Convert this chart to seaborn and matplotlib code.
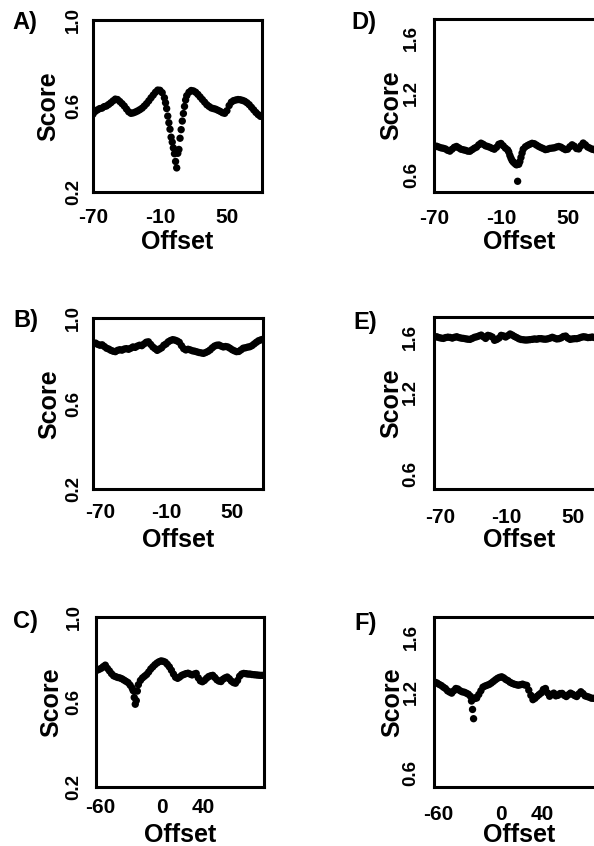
import numpy as np
import pandas as pd
import matplotlib
matplotlib.use("Agg")
import matplotlib.pyplot as plt
import seaborn as sns

sns.set_style("white")
plt.rcParams["font.family"] = ["Liberation Sans", "DejaVu Sans"]
plt.rcParams["font.weight"] = "bold"
plt.rcParams["text.color"] = "black"
plt.rcParams["axes.labelcolor"] = "black"
plt.rcParams["xtick.color"] = "black"
plt.rcParams["ytick.color"] = "black"

# ---------------- data ----------------
# Panel A
a_offset = np.concatenate([np.arange(-70, -5, 2), np.arange(-5, 14), np.arange(14, 81, 2)])
a_score = [0.562, 0.575, 0.582, 0.588, 0.590, 0.597, 0.600, 0.607, 0.615, 0.624,
           0.632, 0.630, 0.621, 0.611, 0.600, 0.586, 0.573, 0.566, 0.568, 0.572,
           0.577, 0.583, 0.590, 0.600, 0.611, 0.624, 0.638, 0.651, 0.664, 0.674,
           0.673, 0.662, 0.638,
           0.615, 0.588, 0.553, 0.522, 0.492, 0.455, 0.432, 0.405, 0.378, 0.342,
           0.312, 0.380, 0.398, 0.450, 0.490, 0.530, 0.565, 0.598, 0.628,
           0.648, 0.664, 0.672, 0.670, 0.664, 0.654, 0.642, 0.630, 0.618, 0.606,
           0.598, 0.591, 0.588, 0.585, 0.580, 0.575, 0.569, 0.566, 0.578, 0.602,
           0.618, 0.625, 0.628, 0.630, 0.629, 0.626, 0.622, 0.615, 0.606, 0.594,
           0.582, 0.570, 0.560, 0.552]

# Panel B
b_offset = np.arange(-76, 79, 2)
b_score = [0.882, 0.884, 0.878, 0.874, 0.876, 0.868, 0.860, 0.856, 0.850, 0.846,
           0.844, 0.850, 0.853, 0.851, 0.856, 0.858, 0.855, 0.860, 0.866, 0.864,
           0.870, 0.874, 0.872, 0.880, 0.888, 0.890, 0.878, 0.866, 0.858, 0.850,
           0.856, 0.862, 0.874, 0.880, 0.890, 0.896, 0.900, 0.898, 0.894, 0.888,
           0.872, 0.858, 0.852, 0.855, 0.852, 0.848, 0.846, 0.843, 0.840, 0.838,
           0.836, 0.840, 0.845, 0.852, 0.862, 0.870, 0.874, 0.875, 0.870, 0.866,
           0.868, 0.866, 0.860, 0.853, 0.848, 0.844, 0.845, 0.852, 0.860, 0.862,
           0.865, 0.867, 0.872, 0.880, 0.888, 0.895, 0.899, 0.902]

# Panel C
c_offset = np.concatenate([np.arange(-63, -28, 2), np.arange(-28, -23), np.arange(-23, 98, 2)])
c_score = [0.748, 0.752, 0.757, 0.765, 0.772, 0.757, 0.745, 0.732, 0.722, 0.718,
           0.714, 0.712, 0.708, 0.702, 0.696, 0.690, 0.678, 0.664,
           0.652, 0.620, 0.588, 0.605, 0.650,
           0.680, 0.700, 0.712, 0.720, 0.728, 0.740, 0.754, 0.764, 0.774, 0.782,
           0.788, 0.792, 0.790, 0.786, 0.776, 0.764, 0.748, 0.730, 0.715, 0.710,
           0.716, 0.724, 0.728, 0.732, 0.734, 0.730, 0.726, 0.730, 0.733, 0.712,
           0.698, 0.694, 0.700, 0.710, 0.718, 0.722, 0.724, 0.714, 0.703, 0.697,
           0.695, 0.706, 0.712, 0.716, 0.708, 0.697, 0.690, 0.687, 0.700, 0.720,
           0.730, 0.733, 0.732, 0.730, 0.730, 0.728, 0.727, 0.726, 0.725, 0.724, 0.724]

# Panel D
d_offset = np.concatenate([np.arange(-70, -3, 2), np.arange(-3, 11), np.arange(12, 81, 2)])
d_score = [0.805, 0.812, 0.806, 0.800, 0.797, 0.792, 0.782, 0.776, 0.790, 0.804,
           0.810, 0.800, 0.790, 0.786, 0.782, 0.776, 0.775, 0.786, 0.797, 0.805,
           0.822, 0.834, 0.826, 0.815, 0.810, 0.804, 0.796, 0.790, 0.804, 0.826,
           0.832, 0.815, 0.798, 0.785,
           0.770, 0.745, 0.725, 0.708, 0.697, 0.690, 0.682, 0.676, 0.556, 0.680,
           0.700, 0.730, 0.762, 0.790,
           0.808, 0.818, 0.826, 0.833, 0.830, 0.820, 0.810, 0.802, 0.795, 0.787,
           0.790, 0.796, 0.798, 0.800, 0.806, 0.810, 0.805, 0.795, 0.787, 0.790,
           0.808, 0.822, 0.812, 0.795, 0.792, 0.815, 0.835, 0.822, 0.806, 0.798,
           0.790, 0.786, 0.800, 0.810, 0.805]

# Panel E
e_offset = np.arange(-75, 78, 2)
e_score = [1.596, 1.600, 1.594, 1.590, 1.588, 1.594, 1.597, 1.595, 1.590, 1.596,
           1.600, 1.594, 1.590, 1.588, 1.585, 1.582, 1.581, 1.588, 1.596, 1.600,
           1.606, 1.612, 1.600, 1.588, 1.610, 1.606, 1.598, 1.574, 1.580, 1.590,
           1.610, 1.606, 1.598, 1.608, 1.620, 1.612, 1.602, 1.594, 1.585, 1.580,
           1.578, 1.576, 1.577, 1.579, 1.581, 1.584, 1.582, 1.586, 1.586, 1.583,
           1.582, 1.585, 1.590, 1.596, 1.590, 1.584, 1.586, 1.592, 1.602, 1.605,
           1.590, 1.581, 1.584, 1.586, 1.586, 1.590, 1.596, 1.600, 1.598, 1.594,
           1.595, 1.598, 1.594, 1.590, 1.594, 1.596, 1.594]

# Panel F
f_offset = np.concatenate([np.arange(-63, -28, 2), np.arange(-28, -23), np.arange(-23, 98, 2)])
f_score = [1.268, 1.262, 1.252, 1.244, 1.232, 1.222, 1.205, 1.196, 1.188, 1.205,
           1.222, 1.218, 1.206, 1.198, 1.195, 1.188, 1.180, 1.165,
           1.130, 1.068, 1.000, 1.148, 1.155,
           1.152, 1.178, 1.205, 1.232, 1.240, 1.246, 1.252, 1.262, 1.274, 1.286,
           1.297, 1.304, 1.308, 1.300, 1.288, 1.280, 1.268, 1.260, 1.254, 1.250,
           1.246, 1.250, 1.254, 1.248, 1.245, 1.210, 1.172, 1.140, 1.150, 1.165,
           1.178, 1.190, 1.215, 1.222, 1.190, 1.165, 1.178, 1.188, 1.168, 1.172,
           1.185, 1.186, 1.172, 1.163, 1.176, 1.188, 1.180, 1.170, 1.163, 1.182,
           1.198, 1.185, 1.168, 1.163, 1.158, 1.151, 1.150, 1.148, 1.152, 1.150, 1.148]

x_ticks_70 = [-70, -50, -30, -10, 10, 30, 50, 70]
x_labels_70 = ["-70", "", "", "-10", "", "", "50", ""]
x_ticks_60 = [-60, -40, -20, 0, 20, 40, 60, 80]
x_labels_60 = ["-60", "", "", "0", "", "40", "", ""]
y_ticks_left = [0.2, 0.4, 0.6, 0.8, 1.0]
y_labels_left = ["0.2", "", "0.6", "", "1.0"]
y_ticks_right = [0.6, 0.8, 1.0, 1.2, 1.4, 1.6]
y_labels_right = ["0.6", "", "", "1.2", "", "1.6"]

# ---------------- layout (pixels) ----------------
W, H = 594, 846
fig = plt.figure(figsize=(W / 100, H / 100), dpi=100)

panels = [
    ("A)", a_offset, a_score, (93, 20, 168.5, 172), (-70, 81.0), (0.2, 1.0),
     x_ticks_70, x_labels_70, y_ticks_left, y_labels_left, (12, 29.5), 8.2, 4.6, -33, -38),
    ("B)", b_offset, b_score, (93, 318.3, 170, 171), (-76.3, 78.0), (0.2, 1.0),
     x_ticks_70, x_labels_70, y_ticks_left, y_labels_left, (13, 326.5), 6.8, 4.4, -32, -38.5),
    ("C)", c_offset, c_score, (96, 616.7, 168, 170), (-64.0, 98.6), (0.2, 1.0),
     x_ticks_60, x_labels_60, y_ticks_left, y_labels_left, (13, 628), 5.0, 6.5, -33, -36),
    ("D)", d_offset, d_score, (434.3, 19, 170, 172.7), (-70, 83.0), (0.48, 1.74),
     x_ticks_70, x_labels_70, y_ticks_right, y_labels_right, (351.5, 28.5), 9.4, 7.0, -31, -38),
    ("E)", e_offset, e_score, (434.3, 316.7, 170, 172.6), (-75.2, 77.8), (0.489, 1.746),
     x_ticks_70, x_labels_70, y_ticks_right, y_labels_right, (353, 329), 10.4, 7.7, -31, -38.5),
    ("F)", f_offset, f_score, (434.3, 616.7, 170, 170), (-63.7, 99.5), (0.50, 1.75),
     x_ticks_60, x_labels_60, y_ticks_right, y_labels_right, (354.5, 630), 9.9, 7.2, -30, -36),
]

for (letter, xs, ys, box, xlim, ylim, xt, xl, yt, yl, lpos, xpad, ypad, ylab_px, xlab_px) in panels:
    l, t, w, h = box
    ax = fig.add_axes([l / W, 1 - (t + h) / H, w / W, h / H])
    df = pd.DataFrame({"Offset": xs, "Score": ys})
    sns.scatterplot(data=df, x="Offset", y="Score", ax=ax, color="black",
                    s=28, linewidth=0, edgecolor="none", legend=False)
    ax.set_xlim(*xlim)
    ax.set_ylim(*ylim)
    ax.set_xticks(xt)
    ax.set_xticklabels(xl, fontsize=15, fontweight="bold")
    ax.set_yticks(yt)
    ax.set_yticklabels(yl, fontsize=13.5, fontweight="bold", rotation=90, va="center")
    ax.tick_params(axis="both", direction="out", length=3.3, width=1.8, color="black")
    ax.tick_params(axis="x", pad=xpad)
    ax.tick_params(axis="y", pad=ypad)
    for sp in ax.spines.values():
        sp.set_linewidth(2.2)
        sp.set_color("black")
    ax.set_xlabel("Offset", fontsize=18, fontweight="bold")
    ax.set_ylabel("Score", fontsize=18, fontweight="bold")
    ax.xaxis.set_label_coords(0.5, xlab_px / h)
    ax.yaxis.set_label_coords(ylab_px / w, 0.5)
    fig.text(lpos[0] / W, 1 - lpos[1] / H, letter, fontsize=17, fontweight="bold",
             ha="left", va="baseline")

fig.savefig("out.png", dpi=100)
